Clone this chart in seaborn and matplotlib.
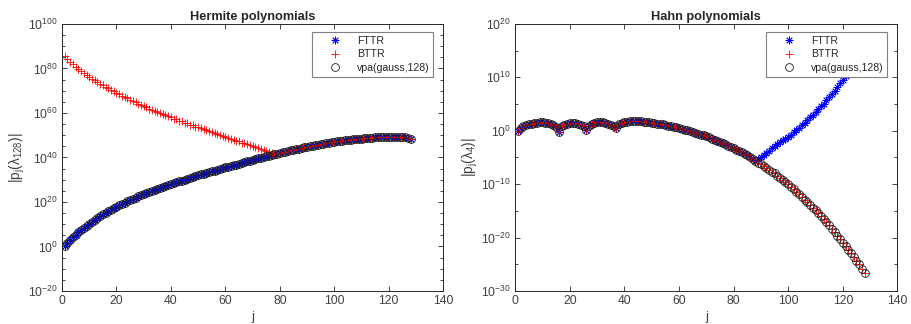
import numpy as np
import seaborn as sns
import matplotlib.pyplot as plt
from matplotlib.ticker import FixedLocator, NullFormatter

# degree index j = 1..128
j = list(range(1, 129))

# Hermite: log10 |p_j(lambda_128)|, reference values (vpa)
herm_exact = [
    0.0, 1.6, 2.9, 4.1, 5.2, 6.3, 7.4, 8.4, 9.4, 10.3,
    11.2, 12.0, 12.8, 13.6, 14.4, 15.1, 15.8, 16.5, 17.2, 17.9,
    18.5, 19.1, 19.7, 20.3, 20.9, 21.5, 22.0, 22.5, 23.0, 23.5,
    24.0, 24.5, 25.0, 25.5, 26.0, 26.4, 26.8, 27.2, 27.6, 28.0,
    28.4, 28.8, 29.2, 29.6, 30.0, 30.4, 30.8, 31.2, 31.6, 32.0,
    32.4, 32.7, 33.1, 33.4, 33.8, 34.1, 34.5, 34.8, 35.2, 35.5,
    35.8, 36.2, 36.5, 36.8, 37.2, 37.5, 37.9, 38.2, 38.6, 38.9,
    39.2, 39.6, 39.9, 40.2, 40.5, 40.8, 41.1, 41.4, 41.7, 42.0,
    42.3, 42.6, 42.9, 43.2, 43.5, 43.8, 44.0, 44.3, 44.6, 44.8,
    45.1, 45.3, 45.5, 45.8, 46.0, 46.2, 46.4, 46.6, 46.8, 47.0,
    47.2, 47.3, 47.5, 47.7, 47.8, 48.0, 48.1, 48.3, 48.4, 48.5,
    48.6, 48.7, 48.8, 48.9, 49.0, 49.1, 49.1, 49.2, 49.2, 49.3,
    49.3, 49.3, 49.3, 49.2, 49.1, 49.0, 48.8, 48.4,
]
# backward recurrence for j = 1..77, afterwards it agrees with vpa
herm_bttr_head = [
    85.5, 84.2, 83.0, 81.9, 80.8, 79.8, 78.8, 77.8, 76.9, 76.0,
    75.3, 74.6, 73.9, 73.2, 72.5, 71.8, 71.1, 70.4, 69.7, 69.0,
    68.4, 67.8, 67.2, 66.6, 66.0, 65.4, 64.8, 64.2, 63.6, 63.0,
    62.5, 62.0, 61.5, 61.0, 60.5, 60.0, 59.5, 59.0, 58.5, 58.0,
    57.5, 57.1, 56.6, 56.2, 55.7, 55.3, 54.8, 54.4, 53.9, 53.5,
    53.1, 52.7, 52.2, 51.8, 51.4, 51.0, 50.6, 50.1, 49.7, 49.3,
    48.9, 48.4, 48.0, 47.6, 47.2, 46.7, 46.3, 45.9, 45.4, 45.0,
    44.6, 44.1, 43.7, 43.3, 42.9, 42.4, 42.0,
]
herm_fttr = herm_exact
herm_bttr = herm_bttr_head + herm_exact[len(herm_bttr_head):]

# Hahn: log10 |p_j(lambda_4)|
hahn_exact = [
    0.0, 0.5, 0.85, 1.05, 1.2, 1.35, 1.45, 1.5, 1.55, 1.55,
    1.5, 1.45, 1.3, 1.05, 0.7, -0.3, 0.8, 1.15, 1.35, 1.45,
    1.5, 1.45, 1.35, 1.1, 0.8, 0.15, 0.9, 1.25, 1.45, 1.55,
    1.6, 1.6, 1.5, 1.35, 1.15, 0.85, 0.55, 1.2, 1.45, 1.6,
    1.7, 1.75, 1.8, 1.8, 1.8, 1.75, 1.7, 1.65, 1.6, 1.5,
    1.42, 1.34, 1.26, 1.18, 1.1, 0.98, 0.86, 0.74, 0.62, 0.5,
    0.35, 0.2, 0.05, -0.1, -0.25, -0.4, -0.55, -0.7, -0.85, -1.0,
    -1.2, -1.45, -1.65, -1.85, -2.1, -2.3, -2.55, -2.8, -3.05, -3.3,
    -3.55, -3.8, -4.05, -4.35, -4.6, -4.9, -5.25, -5.6, -5.95, -6.3,
    -6.65, -7.0, -7.3, -7.65, -8.0, -8.4, -8.8, -9.2, -9.6, -10.0,
    -10.5, -10.95, -11.45, -11.9, -12.4, -12.9, -13.4, -13.9, -14.4, -14.9,
    -15.45, -16.0, -16.55, -17.1, -17.7, -18.35, -19.0, -19.65, -20.3, -21.0,
    -21.65, -22.3, -22.95, -23.6, -24.3, -25.0, -25.8, -26.7,
]
# forward recurrence departs from vpa after j = 88
hahn_fttr_tail = [
    -5.25, -4.9, -4.5, -4.1, -3.7, -3.3, -2.9, -2.5, -2.15, -1.8,
    -1.45, -1.1, -0.7, -0.3, 0.1, 0.55, 1.0, 1.5, 2.0, 2.5,
    3.0, 3.5, 4.05, 4.55, 5.1, 5.7, 6.3, 6.9, 7.5, 8.2,
    8.9, 9.6, 10.3, 11.0, 11.6, 12.3, 13.0, 13.7, 14.4, 15.1,
]
hahn_fttr = hahn_exact[:128 - len(hahn_fttr_tail)] + hahn_fttr_tail
hahn_bttr = hahn_exact

sns.set_style("ticks")
plt.rcParams["font.family"] = ["Liberation Sans", "DejaVu Sans"]
plt.rcParams["mathtext.fontset"] = "custom"
plt.rcParams["mathtext.rm"] = "Liberation Sans"
plt.rcParams["mathtext.it"] = "Liberation Sans:italic"
plt.rcParams["axes.unicode_minus"] = False

GREY = "#262626"
TXT = "#404040"
ASTER = (8, 2, 0)

fig = plt.figure(figsize=(9.12, 3.24), dpi=100)
ax1 = fig.add_axes([0.068, 0.102, 0.418, 0.824])
ax2 = fig.add_axes([0.565, 0.102, 0.419, 0.824])


def markers(ax, vals, marker, color, label, ms, mfc):
    sns.lineplot(x=j, y=10.0 ** np.array(vals), ax=ax, estimator=None, sort=False,
                 linestyle="", marker=marker, markersize=ms, mec=color,
                 mfc=mfc, mew=0.6, color=color, label=label)


def draw(ax, fttr, bttr, exact, title, ylabel, ylim, major_step):
    markers(ax, fttr, ASTER, "b", "FTTR", 5.5, "b")
    markers(ax, bttr, "+", "r", "BTTR", 6, "r")
    markers(ax, exact, "o", "#202020", "vpa(gauss,128)", 5.6, "none")

    ax.set_yscale("log")
    ax.set_xlim(0, 140)
    ax.set_ylim(10.0 ** ylim[0], 10.0 ** ylim[1])
    ax.set_xticks(range(0, 141, 20))
    ax.yaxis.set_major_locator(FixedLocator(10.0 ** np.arange(ylim[0], ylim[1] + 1, major_step)))
    ax.yaxis.set_minor_locator(FixedLocator(10.0 ** np.arange(ylim[0], ylim[1] + 1, 5)))
    ax.yaxis.set_minor_formatter(NullFormatter())

    ax.tick_params(which="both", direction="in", top=True, right=True,
                   colors=GREY, labelcolor=TXT, labelsize=8.8, width=0.6)
    ax.tick_params(which="major", length=3.5, pad=3)
    ax.tick_params(which="minor", length=2)
    for s in ax.spines.values():
        s.set_color(GREY)
        s.set_linewidth(0.7)

    ax.set_title(title, fontsize=9.2, fontweight="bold", pad=3)
    ax.set_xlabel("j", fontsize=9.5, color=TXT, labelpad=3)
    ax.set_ylabel(ylabel, fontsize=9.8, color=TXT, labelpad=1)

    leg = ax.legend(loc="upper right", bbox_to_anchor=(0.974, 0.97),
                    borderaxespad=0, fontsize=7.6, frameon=True, fancybox=False,
                    framealpha=1, edgecolor="#808080", handletextpad=0.3,
                    handlelength=3.6, labelspacing=0.35, borderpad=0.35)
    leg.get_frame().set_linewidth(0.8)
    for t in leg.get_texts():
        t.set_color(GREY)
    leg.set_zorder(10)


draw(ax1, herm_fttr, herm_bttr, herm_exact, "Hermite polynomials",
     r"$\mathregular{|p_j(\lambda_{128})|}$", (-20, 100), 20)
draw(ax2, hahn_fttr, hahn_bttr, hahn_exact, "Hahn polynomials",
     r"$\mathregular{|p_j(\lambda_4)|}$", (-30, 20), 10)

fig.savefig("out.png", dpi=100)
